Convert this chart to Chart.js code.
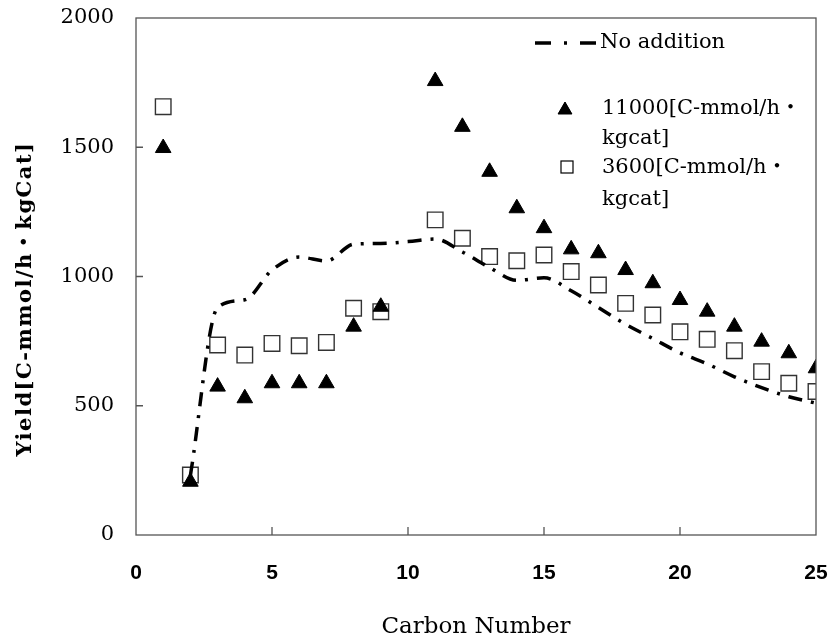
<!DOCTYPE html>
<html>
<head>
<meta charset="utf-8">
<script src="https://cdn.jsdelivr.net/npm/chart.js@4"></script>
<style>
  html,body{margin:0;padding:0;background:#fff;}
  #wrap{width:831px;height:635px;position:relative;}
</style>
</head>
<body>
<div id="wrap"><canvas id="c"></canvas></div>
<script>
// data
const lineCarbon = [2,3,4,5,6,7,8,9,10,11,12,13,14,15,16,17,18,19,20,21,22,23,24,25];
const noAddition = [230,880,910,1025,1075,1060,1125,1128,1135,1145,1095,1035,985,995,945,880,815,760,705,662,612,570,535,510];

const highCarbon = [1,2,3,4,5,6,7,8,9,11,12,13,14,15,16,17,18,19,20,21,22,23,24,25];
const high11000 = [1497,206,574,529,587,587,587,806,883,1756,1579,1405,1264,1187,1105,1090,1025,974,909,864,806,748,703,645];

const lowCarbon = [1,2,3,4,5,6,7,8,9,11,12,13,14,15,16,17,18,19,20,21,22,23,24,25];
const low3600 = [1657,232,735,696,741,732,745,877,864,1219,1148,1077,1061,1083,1019,967,896,851,786,757,713,632,587,555];

const xTicks = [0,5,10,15,20,25];
const yTicks = [0,500,1000,1500,2000];

const legendLabels = ['No addition', ['11000[C-mmol/h・','kgcat]'], ['3600[C-mmol/h・','kgcat]']];
const xTitle = 'Carbon Number';
const yTitle = 'Yield[C-mmol/h・kgCat]';

const SERIF = '"DejaVu Serif", "Noto Sans CJK JP", serif';
const pts = (xs, ys) => xs.map((x, i) => ({x, y: ys[i]}));

const frame = {
  id:'frame',
  afterDraw(chart){
    const {ctx, chartArea:a, scales:{x, y}} = chart;
    ctx.save();
    ctx.strokeStyle = '#555';
    ctx.lineWidth = 1.3;
    ctx.strokeRect(a.left, a.top, a.right - a.left, a.bottom - a.top);
    ctx.beginPath();
    xTicks.slice(1, -1).forEach(v => { const px = x.getPixelForValue(v); ctx.moveTo(px, a.bottom); ctx.lineTo(px, a.bottom - 8); });
    yTicks.slice(1, -1).forEach(v => { const py = y.getPixelForValue(v); ctx.moveTo(a.left, py); ctx.lineTo(a.left + 7, py); });
    ctx.stroke();

    // axis titles
    ctx.fillStyle = '#000';
    ctx.textAlign = 'center';
    ctx.textBaseline = 'alphabetic';
    ctx.font = '23px ' + SERIF;
    ctx.fillText(xTitle, (a.left + a.right) / 2, 633);
    ctx.textBaseline = 'middle';
    ctx.translate(26, 299);
    ctx.rotate(-Math.PI / 2);
    ctx.font = 'bold 21px ' + SERIF;
    ctx.letterSpacing = '1.5px';
    ctx.fillText(yTitle, 0, 0);
    ctx.restore();

    // legend
    ctx.save();
    ctx.fillStyle = '#000';
    ctx.strokeStyle = '#000';
    ctx.font = '21px ' + SERIF;
    ctx.textBaseline = 'middle';
    ctx.textAlign = 'left';
    ctx.lineWidth = 3.5;
    ctx.setLineDash([16, 13, 3, 13]);
    ctx.beginPath(); ctx.moveTo(535, 43); ctx.lineTo(597, 43); ctx.stroke();
    ctx.setLineDash([]);
    ctx.fillText(legendLabels[0], 600, 43);
    ctx.lineWidth = 1;
    Chart.helpers.drawPoint(ctx, {pointStyle:'triangle', radius:8, borderWidth:1}, 565, 110);
    ctx.fill();
    legendLabels[1].forEach((t, i) => ctx.fillText(t, 602, 109 + i * 30));
    ctx.lineWidth = 1.2;
    ctx.strokeRect(561, 161, 12, 12);
    legendLabels[2].forEach((t, i) => ctx.fillText(t, 602, 168 + i * 32));
    ctx.restore();
  }
};

new Chart(document.getElementById('c'), {
  type:'line',
  data:{
    datasets:[
      {label:'No addition', data:pts(lineCarbon, noAddition), borderColor:'#000', borderWidth:3.5, borderDash:[14,9,3,9], pointRadius:0, cubicInterpolationMode:'monotone', fill:false},
      {label:'11000', data:pts(highCarbon, high11000), showLine:false, pointStyle:'triangle', pointRadius:9, backgroundColor:'#000', borderColor:'#000', borderWidth:1},
      {label:'3600', data:pts(lowCarbon, low3600), showLine:false, pointStyle:'rect', pointRadius:11, backgroundColor:'rgba(255,255,255,0)', borderColor:'#333', borderWidth:1.4}
    ]
  },
  options:{
    responsive:true, maintainAspectRatio:false, animation:false,
    layout:{padding:{top:18, right:15, left:0, bottom:0}},
    plugins:{legend:{display:false}, tooltip:{enabled:false}},
    scales:{
      x:{type:'linear', min:0, max:25,
        afterBuildTicks: s => { s.ticks = xTicks.map(v => ({value:v})); },
        afterFit: s => { s.height = 100; s.paddingLeft = 0; s.paddingRight = 0; },
        grid:{display:false, drawTicks:false},
        border:{display:false},
        ticks:{padding:26, color:'#000', callback: v => String(v), font:{family:'"Liberation Sans Narrow", "Liberation Sans", sans-serif', size:21, weight:'bold'}}
      },
      y:{min:0, max:2000,
        afterBuildTicks: s => { s.ticks = yTicks.map(v => ({value:v})); },
        afterFit: s => { s.width = 136; s.paddingTop = 0; s.paddingBottom = 0; },
        grid:{display:false, drawTicks:false},
        border:{display:false},
        ticks:{padding:22, color:'#000', callback: v => String(v), font:{family:SERIF, size:21}}
      }
    }
  },
  plugins:[frame]
});
</script>
</body>
</html>
